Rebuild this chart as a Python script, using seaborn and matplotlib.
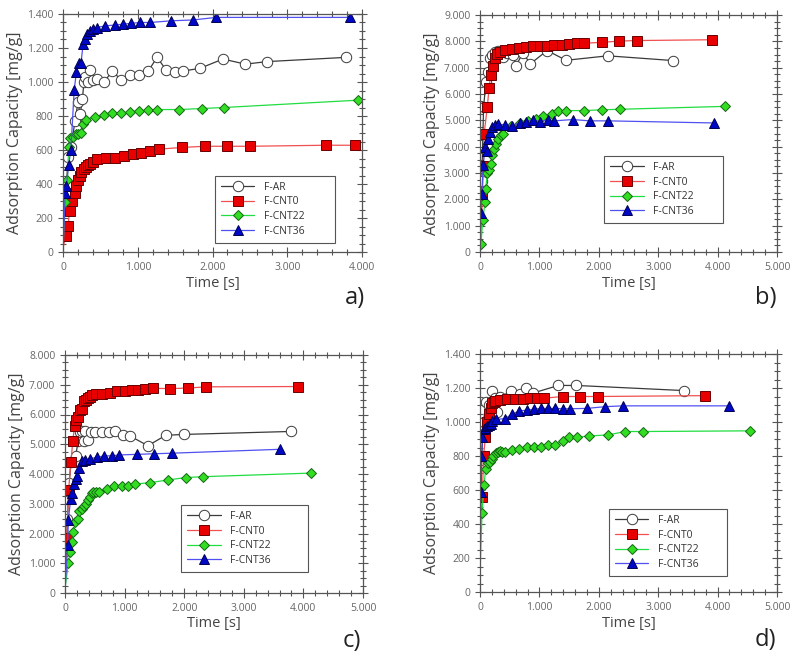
import numpy as np
import pandas as pd
import matplotlib
matplotlib.use("Agg")
import matplotlib.pyplot as plt
from matplotlib.ticker import MultipleLocator, AutoMinorLocator, FuncFormatter
import seaborn as sns

sns.set_style("ticks")
plt.rcParams['font.family'] = ['Open Sans', 'DejaVu Sans']

series_names = ["F-AR", "F-CNT0", "F-CNT22", "F-CNT36"]

# ---------------- panel a ----------------
a_t_ar = [0, 30, 70, 110, 160, 200, 230, 260, 280, 300, 330, 360, 400, 450, 550, 660, 780, 900, 1020, 1140, 1260, 1380, 1500, 1610, 1830, 2140, 2440, 2730, 3790]
a_y_ar = [0, 300, 560, 620, 770, 880, 810, 900, 1000, 1030, 1000, 1070, 1010, 1020, 1000, 1065, 1010, 1040, 1040, 1065, 1145, 1070, 1060, 1065, 1080, 1135, 1105, 1120, 1145]
a_t_c0 = [0, 35, 65, 90, 125, 155, 180, 200, 225, 245, 275, 305, 335, 365, 400, 450, 580, 700, 810, 940, 1050, 1170, 1290, 1590, 1900, 2200, 2500, 3520, 3910]
a_y_c0 = [20, 95, 155, 240, 300, 345, 390, 425, 450, 470, 490, 500, 510, 520, 530, 545, 555, 555, 565, 575, 580, 592, 605, 615, 622, 622, 622, 628, 628]
a_t_c22 = [0, 22, 58, 76, 98, 134, 170, 201, 237, 268, 304, 425, 545, 661, 782, 903, 1019, 1140, 1260, 1555, 1855, 2154, 3942]
a_y_c22 = [0, 295, 425, 618, 668, 677, 693, 697, 701, 752, 779, 795, 805, 815, 815, 825, 829, 834, 838, 838, 844, 850, 893]
a_t_c36 = [0, 30, 45, 75, 105, 150, 180, 215, 240, 270, 290, 320, 360, 395, 450, 560, 690, 800, 915, 1030, 1160, 1450, 1740, 2050, 3840]
a_y_c36 = [0, 345, 390, 510, 600, 955, 1060, 1110, 1110, 1225, 1250, 1285, 1300, 1310, 1320, 1330, 1335, 1340, 1345, 1350, 1350, 1360, 1365, 1380, 1380]

# ---------------- panel b ----------------
b_t_ar = [0, 30, 60, 100, 140, 170, 210, 260, 310, 380, 450, 560, 600, 720, 850, 1130, 1450, 2150, 3250]
b_y_ar = [0, 2700, 5500, 6450, 6850, 7350, 7500, 7600, 7650, 7420, 7550, 7480, 7050, 7550, 7150, 7650, 7280, 7450, 7270]
b_t_c0 = [0, 39, 56, 70, 123, 152, 180, 213, 253, 292, 337, 421, 533, 662, 775, 898, 1010, 1133, 1251, 1375, 1498, 1627, 1756, 2049, 2346, 2649, 3904]
b_y_c0 = [0, 2050, 3250, 4500, 5500, 6220, 6720, 7080, 7350, 7520, 7600, 7680, 7720, 7740, 7780, 7810, 7820, 7840, 7850, 7870, 7880, 7920, 7930, 7960, 8010, 8030, 8060]
b_t_c22 = [0, 17, 45, 84, 96, 124, 157, 180, 208, 236, 270, 309, 348, 382, 520, 675, 815, 950, 1060, 1210, 1320, 1450, 1750, 2050, 2350, 4130]
b_y_c22 = [0, 320, 1220, 1880, 2400, 3000, 3130, 3350, 3670, 3920, 4110, 4300, 4430, 4490, 4800, 4900, 4980, 5040, 5170, 5250, 5340, 5370, 5370, 5400, 5420, 5530]
b_t_c36 = [0, 10, 30, 55, 85, 110, 140, 170, 210, 260, 310, 420, 545, 665, 775, 890, 1010, 1140, 1250, 1560, 1850, 2160, 3940]
b_y_c36 = [0, 1500, 2200, 3300, 4000, 3850, 4300, 4550, 4750, 4830, 4850, 4830, 4800, 4900, 4950, 5030, 4950, 5020, 4980, 5030, 4980, 4980, 4900]

# ---------------- panel c ----------------
c_t_ar = [0, 40, 70, 100, 180, 220, 250, 280, 320, 340, 380, 440, 500, 620, 730, 840, 980, 1090, 1390, 1690, 1990, 3790]
c_y_ar = [100, 2500, 3700, 4400, 4620, 5100, 5400, 5450, 5100, 5450, 5150, 5400, 5420, 5420, 5420, 5450, 5300, 5280, 4950, 5300, 5330, 5430]
c_t_c0 = [0, 30, 60, 100, 130, 160, 190, 220, 250, 290, 320, 360, 390, 420, 460, 520, 620, 750, 880, 1000, 1120, 1230, 1350, 1480, 1770, 2070, 2370, 3910]
c_y_c0 = [200, 1850, 3450, 4400, 5100, 5600, 5800, 5900, 6150, 6200, 6450, 6500, 6550, 6600, 6650, 6700, 6700, 6720, 6780, 6790, 6820, 6830, 6850, 6880, 6870, 6890, 6930, 6940]
c_t_c22 = [0, 56, 84, 112, 140, 168, 212, 240, 279, 318, 352, 391, 419, 447, 475, 520, 570, 709, 827, 950, 1061, 1173, 1425, 1732, 2022, 2318, 4123]
c_y_c22 = [150, 1000, 1370, 1700, 2050, 2370, 2480, 2770, 2830, 2910, 3000, 3110, 3220, 3360, 3390, 3410, 3380, 3500, 3600, 3610, 3610, 3660, 3710, 3800, 3880, 3910, 4030]
c_t_c36 = [0, 45, 56, 95, 123, 151, 179, 207, 240, 279, 335, 419, 531, 659, 782, 905, 1201, 1492, 1799, 3603]
c_y_c36 = [100, 1620, 2460, 3150, 3360, 3670, 3830, 3920, 4200, 4440, 4470, 4510, 4560, 4610, 4610, 4640, 4660, 4680, 4700, 4830]

# ---------------- panel d ----------------
d_t_ar = [0, 30, 60, 100, 150, 200, 250, 280, 340, 530, 670, 780, 890, 1320, 1620, 3430]
d_y_ar = [300, 800, 1000, 1120, 1100, 1180, 1140, 1060, 1150, 1180, 1165, 1200, 1170, 1215, 1215, 1185]
d_t_c0 = [0, 40, 60, 90, 120, 150, 180, 200, 230, 260, 340, 450, 590, 730, 850, 960, 1080, 1390, 1690, 1990, 3780]
d_y_c0 = [300, 560, 800, 910, 1000, 1050, 1080, 1110, 1120, 1125, 1130, 1135, 1135, 1135, 1140, 1140, 1140, 1150, 1150, 1150, 1155]
d_t_c22 = [0, 34, 67, 96, 140, 169, 197, 225, 264, 298, 337, 365, 421, 545, 663, 787, 910, 1022, 1140, 1264, 1393, 1506, 1629, 1843, 2152, 2449, 2742, 4551]
d_y_c22 = [100, 466, 629, 722, 757, 767, 781, 800, 816, 826, 830, 826, 826, 836, 840, 855, 852, 852, 865, 865, 889, 910, 910, 918, 924, 944, 944, 948]
d_t_c36 = [0, 10, 25, 40, 60, 90, 120, 150, 180, 210, 270, 420, 535, 660, 790, 910, 1020, 1140, 1260, 1390, 1520, 1800, 2100, 2400, 4200]
d_y_c36 = [100, 590, 800, 910, 960, 965, 975, 985, 990, 1005, 1015, 1020, 1045, 1065, 1070, 1075, 1080, 1080, 1080, 1078, 1078, 1080, 1090, 1095, 1095]

panel_labels = ["a)", "b)", "c)", "d)"]
x_limits = [4000, 5000, 5000, 5000]
y_limits = [1400, 9000, 8000, 1400]
y_steps = [200, 1000, 1000, 200]

panels = [
    [(a_t_ar, a_y_ar), (a_t_c0, a_y_c0), (a_t_c22, a_y_c22), (a_t_c36, a_y_c36)],
    [(b_t_ar, b_y_ar), (b_t_c0, b_y_c0), (b_t_c22, b_y_c22), (b_t_c36, b_y_c36)],
    [(c_t_ar, c_y_ar), (c_t_c0, c_y_c0), (c_t_c22, c_y_c22), (c_t_c36, c_y_c36)],
    [(d_t_ar, d_y_ar), (d_t_c0, d_y_c0), (d_t_c22, d_y_c22), (d_t_c36, d_y_c36)],
]

styles = {
    "F-AR":    dict(marker="o", color="#3a3a3a", markerfacecolor="white", markeredgecolor="#3a3a3a", markersize=7.5),
    "F-CNT0":  dict(marker="s", color="#f05050", markerfacecolor="#e80000", markeredgecolor="#6a0000", markersize=7),
    "F-CNT22": dict(marker="D", color="#20dd40", markerfacecolor="#33dd22", markeredgecolor="#146614", markersize=5.5),
    "F-CNT36": dict(marker="^", color="#5050f0", markerfacecolor="#0008c8", markeredgecolor="#000050", markersize=7.5),
}

# axes rectangles (figure fraction)
rects = [
    (63 / 795, 1 - 252 / 663, 299 / 795, 238 / 663),
    (480 / 795, 1 - 252 / 663, 297 / 795, 237 / 663),
    (65 / 795, 1 - 593 / 663, 298 / 795, 238 / 663),
    (480 / 795, 1 - 592 / 663, 297 / 795, 238 / 663),
]
legend_boxes = [
    (0.508, 0.038, 0.402),
    (0.418, 0.122, 0.400),
    (0.389, 0.088, 0.426),
    (0.434, 0.067, 0.398),
]
label_pos = [(0.977, -0.195), (0.962, -0.195), (0.963, -0.20), (0.962, -0.20)]

fmt = FuncFormatter(lambda v, p: "0" if v == 0 else f"{v:,.0f}".replace(",", "."))

fig = plt.figure(figsize=(7.95, 6.63), dpi=100)
for i in range(4):
    ax = fig.add_axes(rects[i])
    for name, (t, y) in zip(series_names, panels[i]):
        df = pd.DataFrame({"t": t, "y": y})
        sns.lineplot(data=df, x="t", y="y", ax=ax, sort=False, estimator=None,
                     linewidth=0.9, markeredgewidth=0.7, label=name, legend=False,
                     markevery=list(range(1, len(t))), **styles[name])
    ax.set_xlim(0, x_limits[i])
    ax.set_ylim(0, y_limits[i])
    ax.xaxis.set_major_locator(MultipleLocator(1000))
    ax.xaxis.set_minor_locator(AutoMinorLocator(5))
    ax.yaxis.set_major_locator(MultipleLocator(y_steps[i]))
    ax.yaxis.set_minor_locator(AutoMinorLocator(4))
    ax.xaxis.set_major_formatter(fmt)
    ax.yaxis.set_major_formatter(fmt)
    ax.tick_params(which="both", direction="inout", top=True, right=True,
                   color="#555555", labelcolor="#666666", labelsize=7.5, width=0.8)
    ax.tick_params(which="major", length=7)
    ax.tick_params(which="minor", length=4)
    for s in ax.spines.values():
        s.set_color("#555555")
        s.set_linewidth(0.9)
    ax.set_xlabel("Time [s]", fontsize=10.5, color="#444444", labelpad=2)
    ax.set_ylabel("Adsorption Capacity [mg/g]", fontsize=11.5, color="#444444", labelpad=3)
    lx, ly, lw = legend_boxes[i]
    leg = ax.legend(loc="lower left", bbox_to_anchor=(lx, ly, lw, 0.2), mode="expand",
                    fontsize=7.5, frameon=True, fancybox=False, framealpha=1,
                    edgecolor="#555555", handlelength=3.2, labelspacing=0.35,
                    borderpad=0.6, handletextpad=0.9, borderaxespad=0)
    leg.get_frame().set_linewidth(0.8)
    for txt in leg.get_texts():
        txt.set_color("#333333")
    ax.text(label_pos[i][0], label_pos[i][1], panel_labels[i], transform=ax.transAxes,
            fontsize=17, ha="center", va="center", color="#222222")

fig.savefig("out.png", dpi=100)
